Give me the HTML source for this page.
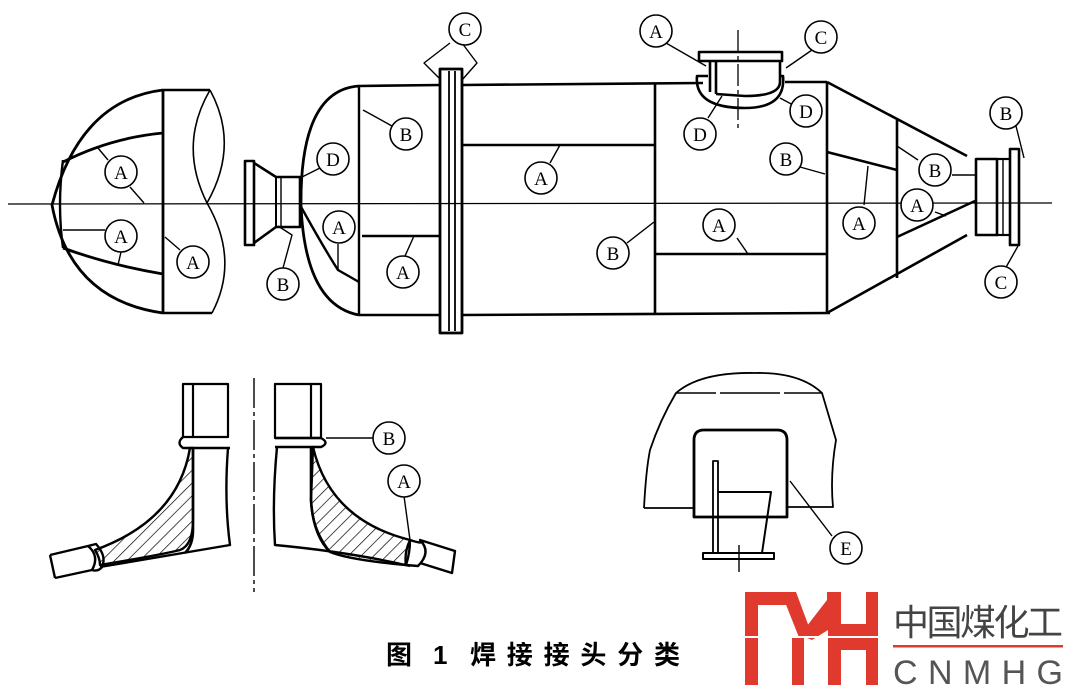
<!DOCTYPE html>
<html><head><meta charset="utf-8"><style>
html,body{margin:0;padding:0;background:#fff;}
svg{display:block;}
</style></head><body>
<svg width="1069" height="691" viewBox="0 0 1069 691" xmlns="http://www.w3.org/2000/svg">
<defs>
<pattern id="h" patternUnits="userSpaceOnUse" width="9" height="9" patternTransform="rotate(45)">
<line x1="0" y1="0" x2="0" y2="9" stroke="#000" stroke-width="1.4"/>
</pattern>
</defs>
<g fill="none" stroke="#000" stroke-width="2.4" stroke-linejoin="round">
<line x1="8" y1="204" x2="1052" y2="203" stroke-width="1.3"/>

<path d="M163 90 Q80 100 52 205 Q70 300 163 313" stroke-width="2.8"/>
<line x1="163" y1="90" x2="163" y2="313" stroke-width="2.8"/>
<line x1="163" y1="90" x2="210" y2="90"/>
<line x1="163" y1="313" x2="212" y2="313"/>
<path d="M210 90 Q178 145 207 203 Q240 260 212 313" stroke-width="1.6"/>
<path d="M210 90 Q240 145 207 203" stroke-width="1.6"/>
<path d="M63 160 Q57 205 63 248" stroke-width="2.4"/>
<path d="M63 162 Q110 138 163 133" stroke-width="2.8"/>
<path d="M63 248 Q110 265 163 274" stroke-width="2.8"/>
<line x1="63" y1="230" x2="105" y2="230" stroke-width="1.4"/>
<line x1="98" y1="148" x2="108" y2="160" stroke-width="1.4"/>
<line x1="130" y1="187" x2="144" y2="203" stroke-width="1.4"/>
<line x1="121" y1="252" x2="118" y2="265" stroke-width="1.4"/>
<line x1="165" y1="237" x2="180" y2="250" stroke-width="1.4"/>

<rect x="245" y="161" width="9" height="84" stroke-width="2.6"/>
<path d="M254 163 L276 177 L300 177 L300 227 L276 227 L254 243" stroke-width="2.6"/>
<line x1="276" y1="177" x2="276" y2="227" stroke-width="2"/>
<line x1="281" y1="177" x2="281" y2="227" stroke-width="1.4"/>

<path d="M359 86 Q300 90 301 205 Q305 305 359 315" stroke-width="2.8"/>
<line x1="359" y1="86" x2="359" y2="315" stroke-width="2.4"/>
<path d="M300 205 Q325 250 338 270 L359 282" stroke-width="2.4"/>
<line x1="338" y1="244" x2="338" y2="270" stroke-width="1.4"/>
<line x1="359" y1="86" x2="440" y2="85" stroke-width="2.6"/>
<line x1="359" y1="315" x2="440" y2="315" stroke-width="2.6"/>
<line x1="362" y1="236" x2="440" y2="236" stroke-width="2.6"/>
<line x1="363" y1="110" x2="392" y2="126" stroke-width="1.4"/>
<line x1="302" y1="177" x2="320" y2="168" stroke-width="1.4"/>
<path d="M278 226 L292 235 L283 268" stroke-width="1.4"/>
<line x1="414" y1="236" x2="405" y2="256" stroke-width="1.4"/>

<rect x="440" y="69" width="22" height="264" stroke-width="2.8"/>
<line x1="449" y1="71" x2="449" y2="331" stroke-width="1.8"/>
<line x1="455" y1="71" x2="455" y2="331" stroke-width="1.8"/>
<path d="M450 43 L424 63 L441 80" stroke-width="1.4"/>
<path d="M462 43 L477 63 L462 80" stroke-width="1.4"/>

<line x1="462" y1="85" x2="703" y2="83" stroke-width="2.6"/>
<line x1="462" y1="315" x2="830" y2="313" stroke-width="2.6"/>
<line x1="462" y1="145" x2="655" y2="145" stroke-width="2.6"/>
<line x1="655" y1="84" x2="655" y2="314" stroke-width="2.6"/>
<line x1="560" y1="145" x2="550" y2="163" stroke-width="1.4"/>
<line x1="655" y1="254" x2="826" y2="254" stroke-width="2.6"/>
<line x1="737" y1="238" x2="748" y2="254" stroke-width="1.4"/>
<line x1="654" y1="222" x2="627" y2="243" stroke-width="1.4"/>
<line x1="785" y1="82" x2="827" y2="82" stroke-width="2.6"/>
<line x1="827" y1="82" x2="827" y2="313" stroke-width="2.6"/>
<line x1="800" y1="167" x2="825" y2="174" stroke-width="1.4"/>

<line x1="738" y1="30" x2="738" y2="128" stroke-width="1.3" stroke-dasharray="22 4 4 4"/>
<rect x="699" y="52" width="83" height="9" stroke-width="2.6"/>
<line x1="710" y1="61" x2="710" y2="92" stroke-width="2.6"/>
<line x1="716" y1="61" x2="716" y2="94" stroke-width="2.6"/>
<path d="M780 61 L780 82 Q780 96 745 96 L716 94" stroke-width="2.6"/>
<path d="M708 76 L697 76 Q694 108 745 108 Q786 108 783 76 L780 76" stroke-width="2.6"/>
<line x1="666" y1="43" x2="706" y2="66" stroke-width="1.4"/>
<line x1="786" y1="68" x2="812" y2="50" stroke-width="1.4"/>
<line x1="722" y1="96" x2="708" y2="118" stroke-width="1.4"/>
<line x1="780" y1="98" x2="795" y2="106" stroke-width="1.4"/>

<line x1="827" y1="82" x2="967" y2="156" stroke-width="2.6"/>
<line x1="827" y1="313" x2="967" y2="235" stroke-width="2.6"/>
<line x1="897" y1="120" x2="897" y2="278" stroke-width="2.6"/>
<line x1="827" y1="152" x2="897" y2="170" stroke-width="2.6"/>
<line x1="897" y1="237" x2="975" y2="201" stroke-width="2.6"/>
<line x1="868" y1="166" x2="864" y2="205" stroke-width="1.4"/>
<line x1="897" y1="146" x2="918" y2="160" stroke-width="1.4"/>
<line x1="952" y1="175" x2="975" y2="175" stroke-width="1.4"/>
<line x1="935" y1="212" x2="946" y2="216" stroke-width="1.4"/>

<rect x="976" y="159" width="21" height="76" stroke-width="2.6"/>
<line x1="997" y1="159" x2="1010" y2="159" stroke-width="2.2"/>
<line x1="997" y1="235" x2="1010" y2="235" stroke-width="2.2"/>
<line x1="1003" y1="159" x2="1003" y2="235" stroke-width="1.4"/>
<rect x="1010" y="149" width="9" height="96" stroke-width="2.6"/>
<line x1="1016" y1="126" x2="1024" y2="158" stroke-width="1.4"/>
<line x1="1005" y1="269" x2="1018" y2="246" stroke-width="1.4"/>

<line x1="254" y1="378" x2="254" y2="592" stroke-width="1.4" stroke-dasharray="30 4 4 4"/>
<rect x="183" y="384" width="45" height="53" stroke-width="2.2"/>
<line x1="193" y1="384" x2="193" y2="437" stroke-width="2.2"/>
<path d="M183 437 Q176 443 183 448 L230 448"/>
<path d="M190 448 Q178 520 95 550 Q100 558 100 565 Q160 555 180 550 Q193 545 193 520 L193 448 Z" fill="url(#h)"/>
<path d="M193 448 L193 530 Q193 545 185 553" stroke-width="2.6"/>
<path d="M228 448 Q224 500 230 545 L100 567"/>
<path d="M50 555 L88 546 M55 578 L92 570 M50 555 L55 578"/>
<path d="M88 546 Q100 556 92 570 Q98 572 102 567 Q107 556 96 544 Z"/>

<rect x="275" y="384" width="46" height="54" stroke-width="2.2"/>
<line x1="311" y1="384" x2="311" y2="438" stroke-width="2.2"/>
<path d="M275 438 L321 438 Q330 443 321 447 L275 447"/>
<path d="M313 447 Q330 520 410 540 Q404 553 406 565 Q350 560 330 552 Q312 530 311 500 Z" fill="url(#h)"/>
<path d="M311 447 L311 500 Q313 535 330 552" stroke-width="2.6"/>
<path d="M277 447 Q272 500 275 545 Q350 552 410 566"/>
<path d="M420 540 L455 551 L452 573 L420 563"/>
<path d="M410 540 Q425 545 420 540 Q432 552 418 566 L406 565 Q410 553 410 540 Z"/>
<line x1="326" y1="438" x2="373" y2="438" stroke-width="1.4"/>
<line x1="404" y1="496" x2="410" y2="540" stroke-width="1.4"/>

<path d="M644 508 Q646 470 650 450 Q660 420 676 393 Q700 372 755 373 Q800 372 822 393 Q830 420 836 440 Q830 475 833 507 L788 507" stroke-width="1.8"/>
<line x1="676" y1="393" x2="822" y2="393" stroke-width="1.6" stroke-dasharray="40 4 60 4"/>
<line x1="644" y1="508" x2="694" y2="508" stroke-width="1.8"/>
<path d="M694 517 L694 440 Q694 430 704 430 L777 430 Q787 430 787 440 L787 517 Z" stroke-width="2.8"/>
<rect x="713" y="461" width="5" height="92" stroke-width="1.8"/>
<path d="M718 492 L771 492 L762 553" stroke-width="2"/>
<rect x="703" y="553" width="71" height="6" stroke-width="2"/>
<line x1="739" y1="545" x2="739" y2="572" stroke-width="1.4"/>
<line x1="790" y1="481" x2="832" y2="536" stroke-width="1.4"/>
</g>

<g font-family="Liberation Serif, serif" font-size="19" text-anchor="middle" fill="#000">
<g fill="#fff" stroke="#000" stroke-width="1.6">
<circle cx="121" cy="172" r="16"/><circle cx="121" cy="236" r="16"/><circle cx="193" cy="262" r="16"/>
<circle cx="406" cy="134" r="16"/><circle cx="333" cy="159" r="16"/><circle cx="339" cy="227" r="16"/>
<circle cx="283" cy="284" r="16"/><circle cx="403" cy="272" r="16"/><circle cx="465" cy="29" r="16"/>
<circle cx="541" cy="178" r="16"/><circle cx="613" cy="253" r="16"/><circle cx="719" cy="225" r="16"/>
<circle cx="656" cy="31" r="16"/><circle cx="821" cy="37" r="16"/><circle cx="700" cy="134" r="16"/>
<circle cx="806" cy="111" r="16"/><circle cx="786" cy="159" r="16"/><circle cx="859" cy="223" r="16"/>
<circle cx="935" cy="170" r="16"/><circle cx="917" cy="205" r="16"/><circle cx="1006" cy="113" r="16"/>
<circle cx="1001" cy="282" r="16"/><circle cx="389" cy="438" r="16"/><circle cx="404" cy="481" r="16"/>
<circle cx="846" cy="548" r="16"/>
</g>
<text x="121" y="179">A</text><text x="121" y="243">A</text><text x="193" y="269">A</text>
<text x="406" y="141">B</text><text x="333" y="166">D</text><text x="339" y="234">A</text>
<text x="283" y="291">B</text><text x="403" y="279">A</text><text x="465" y="36">C</text>
<text x="541" y="185">A</text><text x="613" y="260">B</text><text x="719" y="232">A</text>
<text x="656" y="38">A</text><text x="821" y="44">C</text><text x="700" y="141">D</text>
<text x="806" y="118">D</text><text x="786" y="166">B</text><text x="859" y="230">A</text>
<text x="935" y="177">B</text><text x="917" y="212">A</text><text x="1006" y="120">B</text>
<text x="1001" y="289">C</text><text x="389" y="445">B</text><text x="404" y="488">A</text>
<text x="846" y="555">E</text>
</g>

<g font-family="Liberation Sans, Noto Sans CJK SC, sans-serif" font-size="26" font-weight="bold" fill="#000">
<text x="386" y="664">图</text>
<text x="433" y="664">1</text>
<text x="470" y="664" textLength="210" lengthAdjust="spacing">焊接接头分类</text>
</g>

<g fill="#e03a2f">
<rect x="745" y="592" width="13" height="93"/>
<rect x="745" y="592" width="46" height="13"/>
<polygon points="781,592 796,592 812,635 800,640"/>
<polygon points="827,592 841,592 841,685 828,685 828,630 812,640 800,635 827,600"/>
<rect x="792" y="636" width="12" height="49"/>
<rect x="866" y="592" width="12" height="93"/>
<rect x="840" y="624" width="27" height="26"/>
</g>
<rect x="740" y="636" width="145" height="2" fill="#fff"/>
<text x="893" y="635" font-family="Liberation Sans, Noto Sans CJK SC, sans-serif" font-size="36" fill="#444" textLength="170">中国煤化工</text>
<rect x="893" y="645" width="170" height="2.5" fill="#e03a2f"/>
<text x="893" y="684" font-family="Liberation Sans, sans-serif" font-size="34" fill="#555" textLength="170" lengthAdjust="spacing">CNMHG</text>
</svg>
</body></html>
